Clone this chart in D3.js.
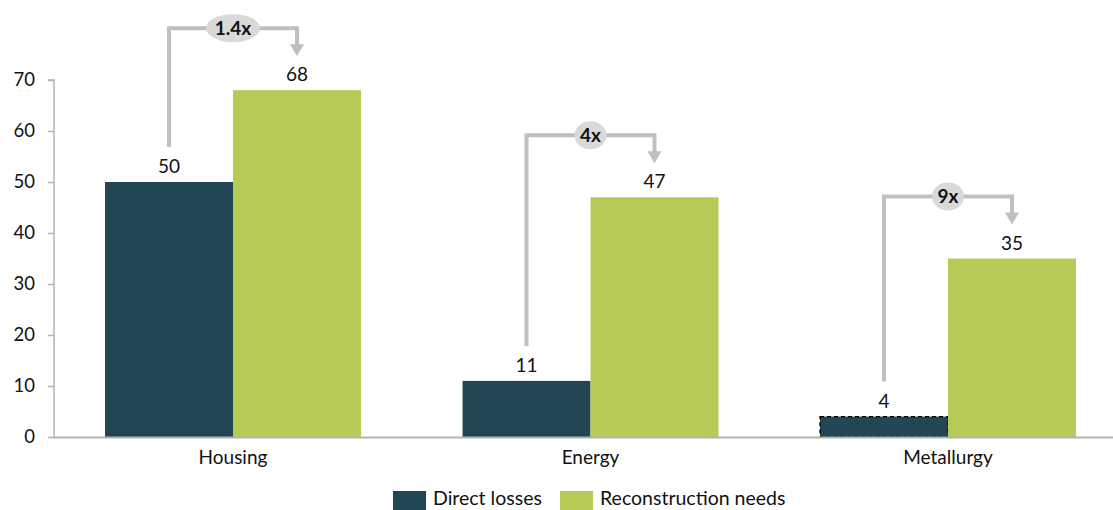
<!DOCTYPE html>
<html>
<head>
<meta charset="utf-8">
<script src="https://cdn.jsdelivr.net/npm/d3@7"></script>
<style>
  html, body { margin: 0; padding: 0; background: #fff; }
  svg { display: block; font-family: Lato, "Open Sans", sans-serif; }
</style>
</head>
<body>
<svg id="chart" width="1113" height="510"></svg>
<script>
// Sector data (USD bn)
const categories = ["Housing", "Energy", "Metallurgy"];
const seriesNames = ["Direct losses", "Reconstruction needs"];
const directLosses = [50, 11, 4];
const reconstructionNeeds = [68, 47, 35];
const multipliers = ["1.4x", "4x", "9x"];
const yTicks = [0, 10, 20, 30, 40, 50, 60, 70];

const colors = { direct: "#234654", recon: "#b5cb55", bracket: "#bfbfbf", pill: "#d9d9d9", axis: "#b3b3b3" };

const svg = d3.select("#chart");
const y0 = 437, yTop = 80;

const y = d3.scaleLinear().domain([0, 70]).range([y0, yTop]);
const x = d3.scaleBand().domain(categories).range([54.25, 1126.75])
  .paddingInner(0.284).paddingOuter(0.142);
const xs = d3.scaleBand().domain(seriesNames).range([0, x.bandwidth()]);

// Y axis
const yAxis = d3.axisLeft(y).tickValues(yTicks).tickSize(6).tickPadding(13);
const gy = svg.append("g").attr("transform", "translate(54,0)").call(yAxis);
gy.select(".domain").attr("stroke", colors.axis).attr("stroke-width", 1.5).attr("d", `M-6,${yTop}H0V${y0}`);
gy.selectAll(".tick line").attr("stroke", colors.axis).attr("stroke-width", 1.5);
gy.selectAll(".tick text").attr("font-size", 18.5).attr("fill", "#111").style("font-family", "Lato, sans-serif");

// Bars
const rows = categories.map((c, i) => ({ cat: c, direct: directLosses[i], recon: reconstructionNeeds[i], mult: multipliers[i] }));

const groups = svg.append("g").selectAll("g").data(rows).join("g")
  .attr("transform", d => `translate(${x(d.cat)},0)`);

groups.append("rect")
  .attr("x", xs("Direct losses")).attr("width", xs.bandwidth())
  .attr("y", d => y(d.direct)).attr("height", d => y0 - y(d.direct))
  .attr("fill", colors.direct)
  .attr("stroke", d => d.cat === "Metallurgy" ? "#000" : "none")
  .attr("stroke-dasharray", "4,3").attr("stroke-width", 1.3);

groups.append("rect")
  .attr("x", xs("Reconstruction needs")).attr("width", xs.bandwidth())
  .attr("y", d => y(d.recon)).attr("height", d => y0 - y(d.recon))
  .attr("fill", colors.recon);

// Value labels
groups.append("text")
  .attr("x", xs("Direct losses") + xs.bandwidth() / 2).attr("y", d => y(d.direct) - 9)
  .attr("text-anchor", "middle").attr("font-size", 19).attr("fill", "#111")
  .text(d => d.direct);
groups.append("text")
  .attr("x", xs("Reconstruction needs") + xs.bandwidth() / 2).attr("y", d => y(d.recon) - 9)
  .attr("text-anchor", "middle").attr("font-size", 19).attr("fill", "#111")
  .text(d => d.recon);

// X axis baseline
svg.append("line").attr("x1", 54).attr("x2", 1113).attr("y1", y0 + 0.5).attr("y2", y0 + 0.5)
  .attr("stroke", colors.axis).attr("stroke-width", 2);

// Category labels
svg.append("g").selectAll("text").data(categories).join("text")
  .attr("x", d => x(d) + x.bandwidth() / 2).attr("y", 464)
  .attr("text-anchor", "middle").attr("font-size", 19).attr("fill", "#111")
  .text(d => d);

// Multiplier brackets
const bracket = groups.append("g");
bracket.append("path")
  .attr("d", d => {
    const xl = xs("Direct losses") + xs.bandwidth() / 2;
    const xr = xs("Reconstruction needs") + xs.bandwidth() / 2;
    const top = y(d.recon) - 62;
    const bottom = y(d.direct) - 35;
    const tip = y(d.recon) - 42;
    return `M${xl},${bottom}V${top}H${xr}V${tip}`;
  })
  .attr("fill", "none").attr("stroke", colors.bracket).attr("stroke-width", 4);
bracket.append("path")
  .attr("d", d => {
    const xr = xs("Reconstruction needs") + xs.bandwidth() / 2;
    const tip = y(d.recon) - 34;
    return `M${xr - 7},${tip - 12}L${xr + 7},${tip - 12}L${xr},${tip}Z`;
  })
  .attr("fill", colors.bracket);
bracket.append("ellipse")
  .attr("cx", x.bandwidth() / 2).attr("cy", d => y(d.recon) - 62)
  .attr("rx", d => d.mult.length > 2 ? 27 : 16).attr("ry", 14)
  .attr("fill", colors.pill);
bracket.append("text")
  .attr("x", x.bandwidth() / 2).attr("y", d => y(d.recon) - 62 + 6.5)
  .attr("text-anchor", "middle").attr("font-size", 19).attr("font-weight", "bold").attr("fill", "#111")
  .text(d => d.mult);

// Legend
const legend = svg.append("g");
const legendItems = [
  { name: seriesNames[0], color: colors.direct, x: 393 },
  { name: seriesNames[1], color: colors.recon, x: 560 }
];
legend.selectAll("rect").data(legendItems).join("rect")
  .attr("x", d => d.x).attr("y", 491).attr("width", 33).attr("height", 22)
  .attr("fill", d => d.color);
legend.selectAll("text").data(legendItems).join("text")
  .attr("x", d => d.x + 40).attr("y", 505)
  .attr("font-size", 19.5).attr("fill", "#111")
  .text(d => d.name);
</script>
</body>
</html>
